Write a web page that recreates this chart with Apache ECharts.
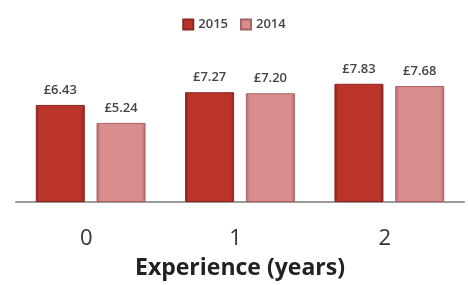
<!DOCTYPE html>
<html>
<head>
<meta charset="utf-8">
<script src="https://cdn.jsdelivr.net/npm/echarts@6/dist/echarts.min.js"></script>
<style>
  html, body { margin: 0; padding: 0; background: #fff; }
  #chart { width: 468px; height: 285px; }
</style>
</head>
<body>
<div id="chart"></div>
<script>
const categories = ["0", "1", "2"];
const values2015 = [6.43, 7.27, 7.83];
const values2014 = [5.24, 7.20, 7.68];

// light edges on each side to fake the bevel of the original
function bevel(mid, dark) {
  return {
    type: "linear", x: 0, y: 0, x2: 1, y2: 0,
    colorStops: [
      { offset: 0, color: dark },
      { offset: 0.08, color: mid },
      { offset: 0.92, color: mid },
      { offset: 1, color: dark }
    ]
  };
}

const chart = echarts.init(document.getElementById("chart"));
const labelStyle = {
  show: true,
  position: "top",
  distance: 8,
  fontFamily: "Open Sans",
  fontSize: 13,
  fontWeight: 600,
  color: "#444",
  formatter: p => "£" + p.value.toFixed(2)
};

chart.setOption({
  animation: false,
  legend: {
    top: 13,
    left: "center",
    icon: "rect",
    itemWidth: 10,
    itemHeight: 10,
    itemGap: 12,
    textStyle: { fontFamily: "Open Sans", fontSize: 13, fontWeight: 600, color: "#444" },
    data: ["2015", "2014"]
  },
  grid: { left: 16, right: 4, top: 51, bottom: 81 },
  xAxis: {
    type: "category",
    data: categories,
    name: "Experience (years)",
    nameLocation: "middle",
    nameGap: 55,
    nameTextStyle: { fontFamily: "Open Sans", fontSize: 23, fontWeight: "bold", color: "#222" },
    axisLine: { lineStyle: { color: "#9a9a9a", width: 2 } },
    axisTick: { show: false },
    axisLabel: {
      margin: 26, fontFamily: "Open Sans", fontSize: 22, color: "#333",
      padding: [0, 9, 0, 0]
    }
  },
  yAxis: {
    type: "value",
    min: 0,
    max: 10,
    show: false
  },
  series: [
    {
      name: "2015",
      type: "bar",
      data: values2015,
      barWidth: 49,
      barGap: "24%",
      itemStyle: {
        color: bevel("#bb3429", "#8e231c"),
        borderColor: "#8a2520",
        borderWidth: 1
      },
      label: labelStyle
    },
    {
      name: "2014",
      type: "bar",
      data: values2014,
      barWidth: 49,
      itemStyle: {
        color: bevel("#d98d8d", "#b46a6a"),
        borderColor: "#a86262",
        borderWidth: 1
      },
      label: labelStyle
    }
  ]
});
</script>
</body>
</html>
